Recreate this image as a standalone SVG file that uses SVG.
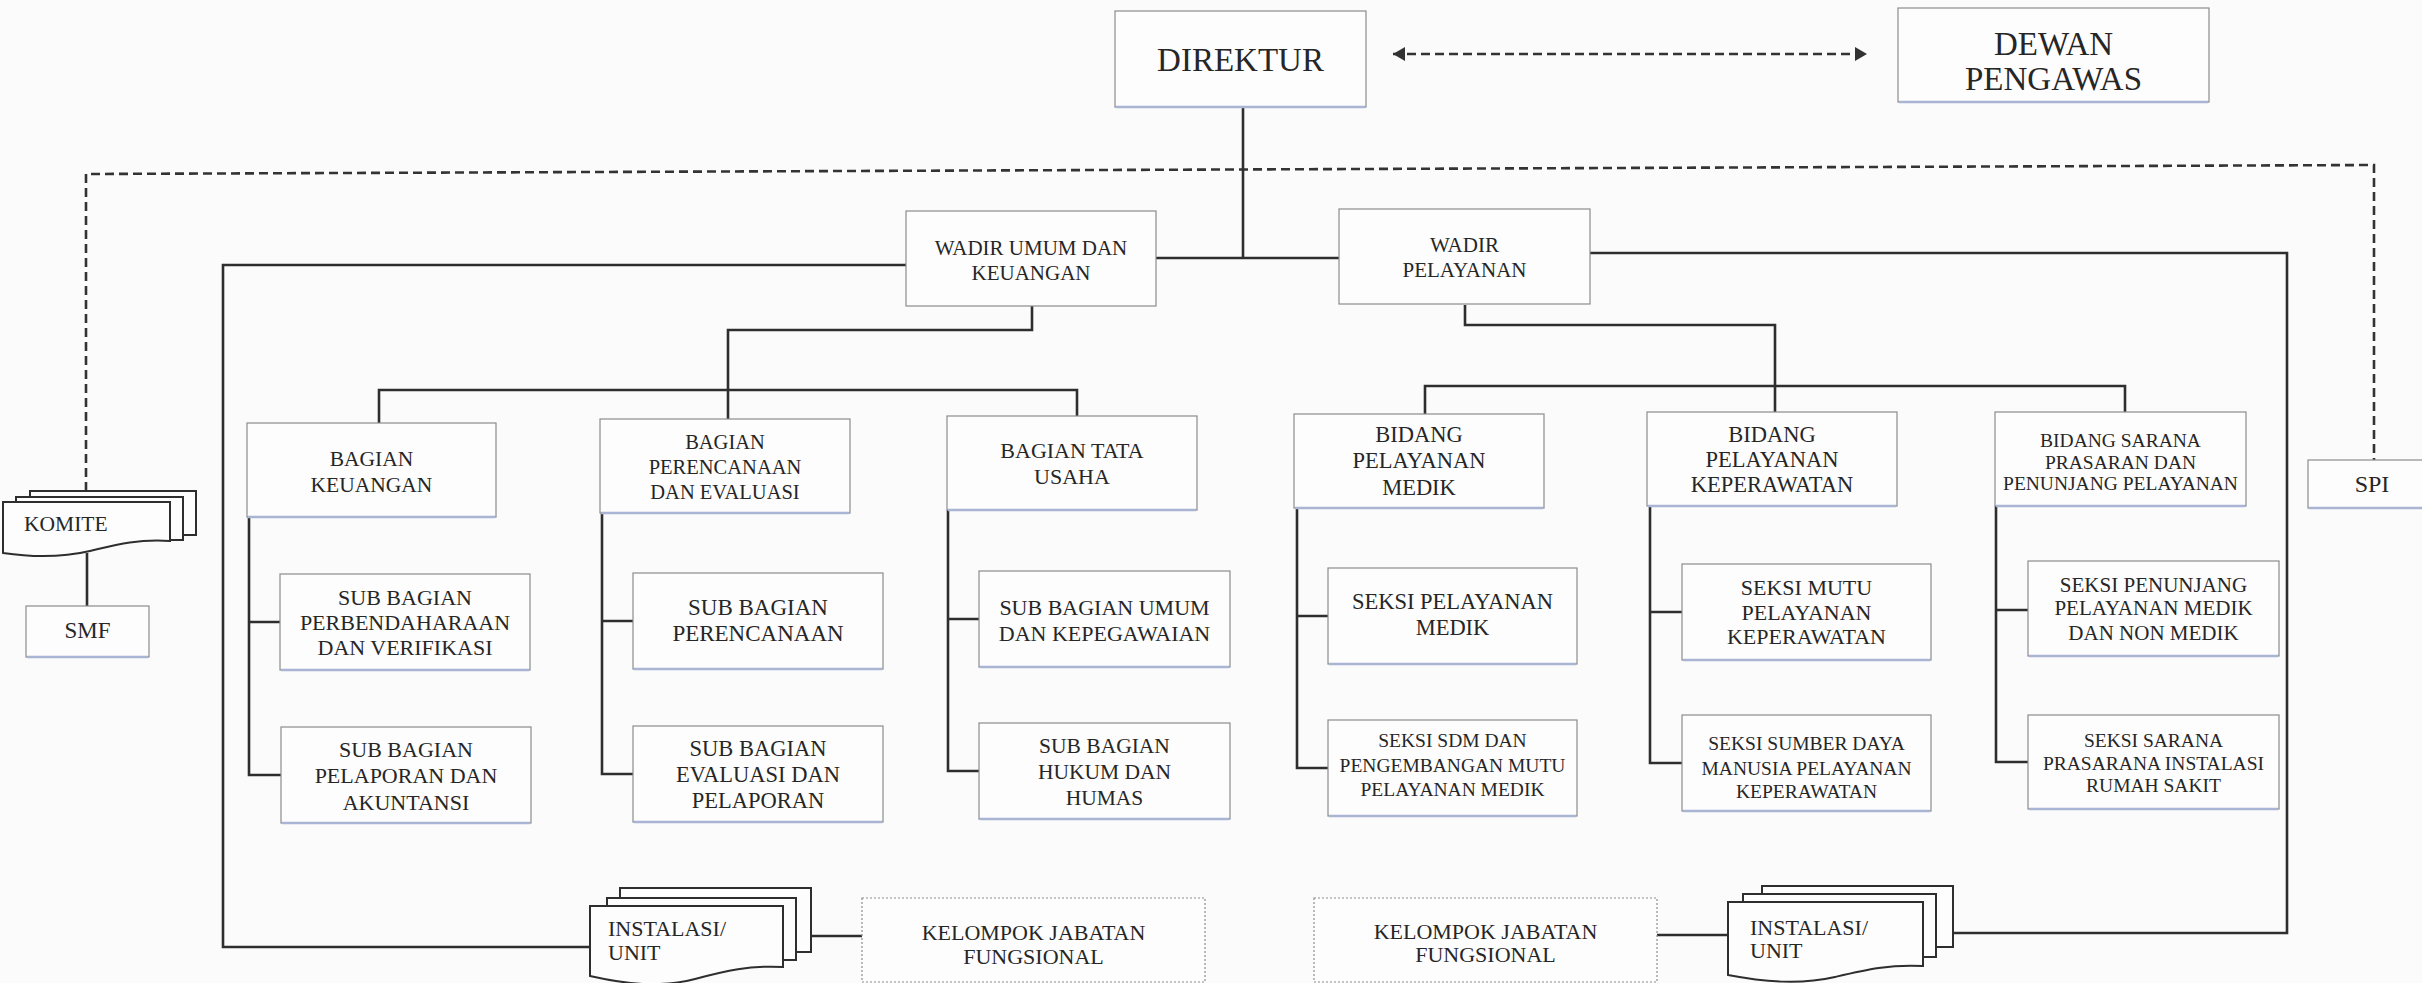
<svg xmlns="http://www.w3.org/2000/svg" width="2422" height="983" viewBox="0 0 2422 983">
<style>
  .bx{fill:#fdfdfd;stroke:#8c8c8c;stroke-width:1.2}
  .bt{stroke:#a9b5d3;stroke-width:2.5;fill:none}
  .dot{fill:#fdfdfd;stroke:#8c8c8c;stroke-width:1.2;stroke-dasharray:2 2}
  .doc{fill:#fdfdfd;stroke:#2e2e2e;stroke-width:2}
  .ln{fill:none;stroke:#2e2e2e;stroke-width:2.6}
  .ds{fill:none;stroke:#333;stroke-width:2.6;stroke-dasharray:9 5}
  text{font-family:"Liberation Serif","Times New Roman",serif;fill:#262626;text-anchor:middle}
  .l{text-anchor:start}
</style>
<defs>
  <marker id="ah" viewBox="0 0 12 14" refX="12" refY="7" markerWidth="12" markerHeight="14" markerUnits="userSpaceOnUse" orient="auto-start-reverse">
    <path d="M0,0 L12,7 L0,14 Z" fill="#333"/>
  </marker>
</defs>
<rect x="0" y="0" width="2422" height="983" fill="#fbfbfc"/>

<g id="connectors">
  <line class="ds" x1="1393" y1="54" x2="1867" y2="54" marker-start="url(#ah)" marker-end="url(#ah)"/>
  <path class="ds" d="M86,491 V174 L2374,165 V460"/>
  <line class="ln" x1="1243" y1="107" x2="1243" y2="258"/>
  <line class="ln" x1="1156" y1="258" x2="1339" y2="258"/>
  <path class="ln" d="M906,265 H223 V947 H590"/>
  <path class="ln" d="M1590,253 H2287 V933 H1953"/>
  <path class="ln" d="M1032,306 V330 H728 V419"/>
  <path class="ln" d="M379,423 V390 H1077 V416"/>
  <path class="ln" d="M1465,305 V325 H1775 V412"/>
  <path class="ln" d="M1425,414 V386 H2125 V412"/>
  <line class="ln" x1="87" y1="553" x2="87" y2="606"/>
  <line class="ln" x1="783" y1="936" x2="862" y2="936"/>
  <line class="ln" x1="1657" y1="935" x2="1728" y2="935"/>
  <path class="ln" d="M249,517 V775 H281 M249,622 H280"/>
  <path class="ln" d="M602,513 V774 H633 M602,621 H633"/>
  <path class="ln" d="M948,510 V771 H979 M948,619 H979"/>
  <path class="ln" d="M1297,508 V768 H1328 M1297,616 H1328"/>
  <path class="ln" d="M1650,506 V763 H1682 M1650,612 H1682"/>
  <path class="ln" d="M1996,506 V762 H2028 M1996,610 H2028"/>
</g>

<g id="direktur">
  <rect class="bx" x="1115" y="11" width="251" height="96"/>
  <line class="bt" x1="1116" y1="107" x2="1365" y2="107"/>
  <text x="1240.5" y="71" font-size="33">DIREKTUR</text>
</g>
<g id="dewan-pengawas">
  <rect class="bx" x="1898" y="8" width="311" height="94"/>
  <line class="bt" x1="1899" y1="102" x2="2208" y2="102"/>
  <text x="2053.5" y="55" font-size="33">DEWAN</text>
  <text x="2053.5" y="90" font-size="33">PENGAWAS</text>
</g>
<g id="wadir-umum">
  <rect class="bx" x="906" y="211" width="250" height="95"/>
  <text x="1031" y="255" font-size="21">WADIR UMUM DAN</text>
  <text x="1031" y="280" font-size="21">KEUANGAN</text>
</g>
<g id="wadir-pelayanan">
  <rect class="bx" x="1339" y="209" width="251" height="95"/>
  <text x="1464.5" y="252" font-size="21">WADIR</text>
  <text x="1464.5" y="277" font-size="21">PELAYANAN</text>
</g>

<g id="bagian-keuangan">
  <rect class="bx" x="247" y="423" width="249" height="94"/>
  <line class="bt" x1="248" y1="517" x2="495" y2="517"/>
  <text x="371.5" y="466" font-size="21.5">BAGIAN</text>
  <text x="371.5" y="492" font-size="21.5">KEUANGAN</text>
</g>
<g id="bagian-perencanaan">
  <rect class="bx" x="600" y="419" width="250" height="94"/>
  <line class="bt" x1="601" y1="513" x2="849" y2="513"/>
  <text x="725" y="449" font-size="20.5">BAGIAN</text>
  <text x="725" y="474" font-size="20.5">PERENCANAAN</text>
  <text x="725" y="499" font-size="20.5">DAN EVALUASI</text>
</g>
<g id="bagian-tata-usaha">
  <rect class="bx" x="947" y="416" width="250" height="94"/>
  <line class="bt" x1="948" y1="510" x2="1196" y2="510"/>
  <text x="1072" y="458" font-size="22">BAGIAN TATA</text>
  <text x="1072" y="484" font-size="22">USAHA</text>
</g>
<g id="bidang-medik">
  <rect class="bx" x="1294" y="414" width="250" height="94"/>
  <line class="bt" x1="1295" y1="508" x2="1543" y2="508"/>
  <text x="1419" y="442" font-size="22.5">BIDANG</text>
  <text x="1419" y="468" font-size="22.5">PELAYANAN</text>
  <text x="1419" y="495" font-size="22.5">MEDIK</text>
</g>
<g id="bidang-keperawatan">
  <rect class="bx" x="1647" y="412" width="250" height="94"/>
  <line class="bt" x1="1648" y1="506" x2="1896" y2="506"/>
  <text x="1772" y="442" font-size="22.5">BIDANG</text>
  <text x="1772" y="467" font-size="22.5">PELAYANAN</text>
  <text x="1772" y="492" font-size="22.5">KEPERAWATAN</text>
</g>
<g id="bidang-sarana">
  <rect class="bx" x="1995" y="412" width="251" height="94"/>
  <line class="bt" x1="1996" y1="506" x2="2245" y2="506"/>
  <text x="2120.5" y="447" font-size="19.5">BIDANG SARANA</text>
  <text x="2120.5" y="469" font-size="19.5">PRASARAN DAN</text>
  <text x="2120.5" y="490" font-size="19.5">PENUNJANG PELAYANAN</text>
</g>
<g id="spi">
  <rect class="bx" x="2308" y="460" width="130" height="48"/>
  <line class="bt" x1="2309" y1="508" x2="2422" y2="508"/>
  <text x="2372" y="492" font-size="24">SPI</text>
</g>

<g id="komite">
  <rect class="doc" x="30" y="491" width="166" height="44"/>
  <rect class="doc" x="16" y="497" width="167" height="43"/>
  <path class="doc" d="M3,502 H170 V541 C135,539 115,545 90,551 C60,558 30,557 3,553 Z"/>
  <text class="l" x="24" y="531" font-size="21.5">KOMITE</text>
</g>
<g id="smf">
  <rect class="bx" x="26" y="606" width="123" height="51"/>
  <line class="bt" x1="27" y1="657" x2="148" y2="657"/>
  <text x="87.5" y="638" font-size="23">SMF</text>
</g>

<g id="sub-perbendaharaan">
  <rect class="bx" x="280" y="574" width="250" height="96"/>
  <line class="bt" x1="281" y1="670" x2="529" y2="670"/>
  <text x="405" y="605" font-size="22">SUB BAGIAN</text>
  <text x="405" y="630" font-size="22">PERBENDAHARAAN</text>
  <text x="405" y="655" font-size="22">DAN VERIFIKASI</text>
</g>
<g id="sub-perencanaan">
  <rect class="bx" x="633" y="573" width="250" height="96"/>
  <line class="bt" x1="634" y1="669" x2="882" y2="669"/>
  <text x="758" y="615" font-size="23">SUB BAGIAN</text>
  <text x="758" y="641" font-size="23">PERENCANAAN</text>
</g>
<g id="sub-umum">
  <rect class="bx" x="979" y="571" width="251" height="96"/>
  <line class="bt" x1="980" y1="667" x2="1229" y2="667"/>
  <text x="1104.5" y="615" font-size="22">SUB BAGIAN UMUM</text>
  <text x="1104.5" y="641" font-size="22">DAN KEPEGAWAIAN</text>
</g>
<g id="seksi-pelayanan-medik">
  <rect class="bx" x="1328" y="568" width="249" height="96"/>
  <line class="bt" x1="1329" y1="664" x2="1576" y2="664"/>
  <text x="1452.5" y="609" font-size="22.5">SEKSI PELAYANAN</text>
  <text x="1452.5" y="635" font-size="22.5">MEDIK</text>
</g>
<g id="seksi-mutu">
  <rect class="bx" x="1682" y="564" width="249" height="96"/>
  <line class="bt" x1="1683" y1="660" x2="1930" y2="660"/>
  <text x="1806.5" y="595" font-size="22">SEKSI MUTU</text>
  <text x="1806.5" y="620" font-size="22">PELAYANAN</text>
  <text x="1806.5" y="644" font-size="22">KEPERAWATAN</text>
</g>
<g id="seksi-penunjang">
  <rect class="bx" x="2028" y="561" width="251" height="95"/>
  <line class="bt" x1="2029" y1="656" x2="2278" y2="656"/>
  <text x="2153.5" y="592" font-size="21">SEKSI PENUNJANG</text>
  <text x="2153.5" y="615" font-size="21">PELAYANAN MEDIK</text>
  <text x="2153.5" y="640" font-size="21">DAN NON MEDIK</text>
</g>

<g id="sub-pelaporan">
  <rect class="bx" x="281" y="727" width="250" height="96"/>
  <line class="bt" x1="282" y1="823" x2="530" y2="823"/>
  <text x="406" y="757" font-size="22">SUB BAGIAN</text>
  <text x="406" y="783" font-size="22">PELAPORAN DAN</text>
  <text x="406" y="810" font-size="22">AKUNTANSI</text>
</g>
<g id="sub-evaluasi">
  <rect class="bx" x="633" y="726" width="250" height="96"/>
  <line class="bt" x1="634" y1="822" x2="882" y2="822"/>
  <text x="758" y="756" font-size="22.5">SUB BAGIAN</text>
  <text x="758" y="782" font-size="22.5">EVALUASI DAN</text>
  <text x="758" y="808" font-size="22.5">PELAPORAN</text>
</g>
<g id="sub-hukum">
  <rect class="bx" x="979" y="723" width="251" height="96"/>
  <line class="bt" x1="980" y1="819" x2="1229" y2="819"/>
  <text x="1104.5" y="753" font-size="21.5">SUB BAGIAN</text>
  <text x="1104.5" y="779" font-size="21.5">HUKUM DAN</text>
  <text x="1104.5" y="805" font-size="21.5">HUMAS</text>
</g>
<g id="seksi-sdm">
  <rect class="bx" x="1328" y="720" width="249" height="96"/>
  <line class="bt" x1="1329" y1="816" x2="1576" y2="816"/>
  <text x="1452.5" y="747" font-size="19.5">SEKSI SDM DAN</text>
  <text x="1452.5" y="772" font-size="19.5">PENGEMBANGAN MUTU</text>
  <text x="1452.5" y="796" font-size="19.5">PELAYANAN MEDIK</text>
</g>
<g id="seksi-sumber-daya">
  <rect class="bx" x="1682" y="715" width="249" height="96"/>
  <line class="bt" x1="1683" y1="811" x2="1930" y2="811"/>
  <text x="1806.5" y="750" font-size="19.5">SEKSI SUMBER DAYA</text>
  <text x="1806.5" y="775" font-size="19.5">MANUSIA PELAYANAN</text>
  <text x="1806.5" y="798" font-size="19.5">KEPERAWATAN</text>
</g>
<g id="seksi-sarana">
  <rect class="bx" x="2028" y="715" width="251" height="94"/>
  <line class="bt" x1="2029" y1="809" x2="2278" y2="809"/>
  <text x="2153.5" y="747" font-size="19.5">SEKSI SARANA</text>
  <text x="2153.5" y="770" font-size="19.5">PRASARANA INSTALASI</text>
  <text x="2153.5" y="792" font-size="19.5">RUMAH SAKIT</text>
</g>

<g id="instalasi-kiri">
  <rect class="doc" x="620" y="888" width="191" height="64"/>
  <rect class="doc" x="607" y="898" width="189" height="62"/>
  <path class="doc" d="M590,906 H783 V967 C750,965 725,971 695,979 C660,988 625,984 590,976 Z"/>
  <text class="l" x="608" y="936" font-size="22">INSTALASI/</text>
  <text class="l" x="608" y="960" font-size="22">UNIT</text>
</g>
<g id="kelompok-kiri">
  <rect class="dot" x="862" y="898" width="343" height="84"/>
  <text x="1033.5" y="940" font-size="22">KELOMPOK JABATAN</text>
  <text x="1033.5" y="964" font-size="22">FUNGSIONAL</text>
</g>
<g id="kelompok-kanan">
  <rect class="dot" x="1314" y="898" width="343" height="84"/>
  <text x="1485.5" y="939" font-size="22">KELOMPOK JABATAN</text>
  <text x="1485.5" y="962" font-size="22">FUNGSIONAL</text>
</g>
<g id="instalasi-kanan">
  <rect class="doc" x="1762" y="886" width="191" height="61"/>
  <rect class="doc" x="1743" y="894" width="193" height="63"/>
  <path class="doc" d="M1728,902 H1923 V966 C1890,964 1865,970 1835,977 C1800,985 1765,982 1728,975 Z"/>
  <text class="l" x="1750" y="935" font-size="22">INSTALASI/</text>
  <text class="l" x="1750" y="958" font-size="22">UNIT</text>
</g>
</svg>
